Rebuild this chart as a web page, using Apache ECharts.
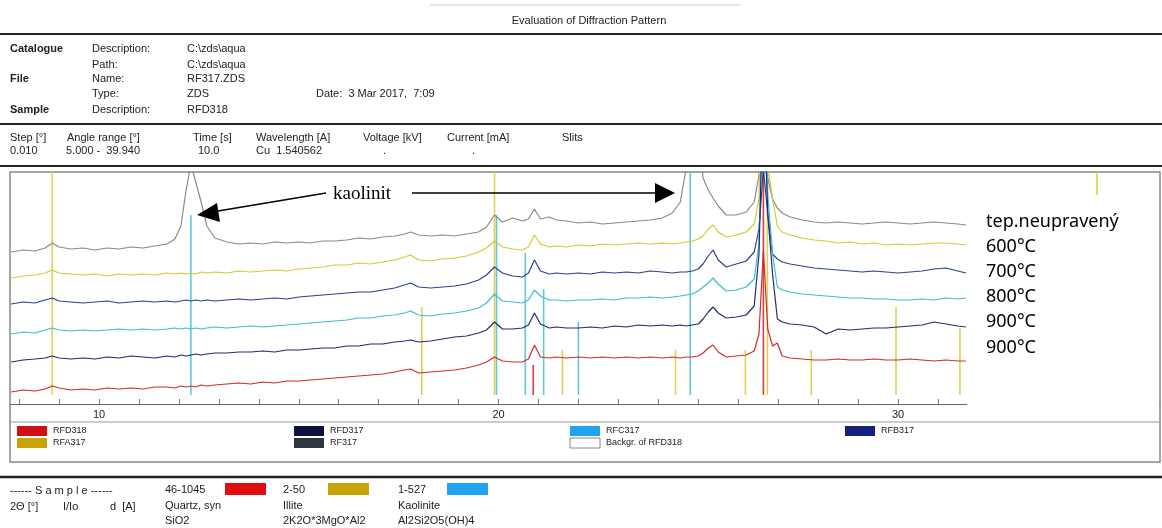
<!DOCTYPE html>
<html>
<head>
<meta charset="utf-8">
<title>Evaluation of Diffraction Pattern</title>
<script src="https://cdn.jsdelivr.net/npm/echarts@6/dist/echarts.min.js"></script>
<style>
  html, body { margin: 0; padding: 0; background: #fff; }
  #chart { width: 1162px; height: 528px; }
</style>
</head>
<body>
<div id="chart"></div>
<script>
// 2theta positions shared by all scans (deg)
var twoTheta = [7.8, 8.1, 8.4, 8.65, 8.83, 9.0, 9.3, 9.6, 9.9, 10.2,
  10.5, 10.8, 11.1, 11.4, 11.7, 11.9, 12.05, 12.18, 12.3, 12.42,
  12.55, 12.7, 12.9, 13.2, 13.5, 13.8, 14.1, 14.4, 14.7, 15.0,
  15.3, 15.6, 15.9, 16.2, 16.5, 16.8, 17.1, 17.4, 17.65, 17.8,
  18.0, 18.3, 18.6, 18.9, 19.2, 19.5, 19.7, 19.9, 20.1, 20.35,
  20.6, 20.75, 20.9, 21.05, 21.27, 21.45, 21.7, 22.0, 22.3, 22.6,
  22.9, 23.2, 23.5, 23.8, 24.1, 24.35, 24.55, 24.7, 24.85, 25.0,
  25.12, 25.25, 25.37, 25.5, 25.7, 25.95, 26.2, 26.4, 26.52, 26.63,
  26.74, 26.86, 26.98, 27.1, 27.3, 27.6, 27.9, 28.2, 28.5, 28.8,
  29.1, 29.4, 29.7, 30.0, 30.3, 30.6, 30.9, 31.2, 31.5, 31.7];

// stacked scans (offset intensity, top to bottom)
var scanRaw = [152, 154, 153, 156, 161, 157, 155, 156, 154, 156,
  155, 157, 156, 158, 160, 165, 178, 214, 240, 222,
  203, 178, 166, 162, 160, 161, 160, 162, 161, 162,
  161, 163, 163, 164, 166, 165, 167, 168, 170, 172,
  169, 168, 169, 168, 170, 172, 177, 189, 182, 186,
  183, 185, 195, 185, 187, 184, 183, 181, 182, 180,
  181, 182, 183, 184, 186, 191, 202, 236, 300, 270,
  226, 214, 206, 198, 189, 189, 192, 202, 229, 450,
  226, 205, 196, 191, 187, 184, 182, 181, 182, 181,
  180, 181, 182, 181, 180, 181, 182, 181, 180, 179];
var scan600 = [126, 128, 129, 131, 134, 131, 130, 129, 130, 128,
  130, 129, 130, 129, 131, 130, 131, 130, 131, 130,
  132, 131, 132, 131, 133, 132, 133, 134, 133, 135,
  136, 137, 139, 139, 141, 140, 142, 144, 147, 149,
  144, 143, 145, 146, 148, 152, 156, 163, 157, 155,
  154, 157, 169, 160, 157, 158, 157, 159, 158, 160,
  159, 160, 161, 160, 161, 160, 161, 162, 163, 165,
  168, 175, 179, 172, 167, 169, 172, 180, 205, 420,
  240, 205, 178, 172, 169, 166, 164, 163, 161, 162,
  160, 161, 159, 160, 159, 160, 161, 161, 160, 159];
var scan700 = [100, 102, 101, 104, 106, 103, 102, 101, 102, 103,
  101, 102, 103, 102, 103, 102, 103, 104, 103, 104,
  103, 104, 103, 104, 105, 104, 105, 106, 105, 107,
  108, 109, 110, 111, 112, 112, 114, 116, 119, 121,
  117, 116, 117, 118, 120, 124, 129, 137, 131, 128,
  127, 131, 144, 133, 130, 131, 130, 131, 130, 132,
  131, 132, 131, 133, 132, 131, 132, 132, 133, 135,
  140, 148, 154, 144, 137, 140, 143, 152, 175, 235,
  190, 150, 145, 142, 140, 138, 136, 135, 134, 133,
  132, 133, 132, 131, 132, 133, 135, 136, 133, 131];
var scan800 = [70, 72, 71, 74, 76, 74, 73, 74, 73, 74,
  75, 74, 75, 74, 75, 76, 75, 76, 75, 76,
  75, 76, 77, 76, 77, 78, 77, 78, 79, 80,
  81, 82, 83, 84, 86, 86, 88, 89, 91, 93,
  89, 88, 90, 91, 93, 96, 101, 110, 103, 102,
  101, 104, 114, 108, 104, 104, 103, 104, 104, 105,
  104, 106, 106, 107, 106, 107, 108, 109, 110, 113,
  117, 121, 126, 120, 113, 114, 117, 125, 160, 330,
  210, 150, 117, 114, 112, 110, 109, 108, 107, 106,
  106, 105, 105, 104, 104, 105, 104, 106, 105, 106];
var scan900a = [42, 44, 45, 46, 48, 46, 45, 46, 45, 47,
  46, 48, 47, 46, 48, 47, 49, 48, 49, 50,
  49, 50, 51, 51, 52, 52, 53, 52, 54, 54,
  55, 56, 56, 58, 58, 60, 60, 62, 63, 64,
  62, 63, 65, 67, 68, 71, 74, 82, 75, 75,
  76, 79, 91, 80, 76, 77, 76, 76, 77, 76,
  78, 77, 79, 78, 79, 78, 79, 78, 79, 80,
  85, 92, 97, 91, 86, 87, 89, 98, 150, 320,
  190, 130, 85, 82, 80, 79, 77, 70, 75, 74,
  75, 76, 76, 77, 78, 79, 82, 80, 78, 77];
var scan900b = [12, 14, 13, 15, 18, 16, 14, 15, 14, 16,
  15, 16, 15, 17, 17, 16, 18, 17, 18, 17,
  19, 18, 19, 20, 21, 20, 22, 21, 23, 23,
  24, 25, 26, 27, 28, 29, 30, 32, 34, 35,
  31, 32, 33, 34, 36, 39, 42, 47, 43, 42,
  42, 45, 59, 47, 46, 47, 46, 47, 46, 47,
  46, 47, 46, 47, 46, 47, 46, 47, 47, 48,
  51, 56, 59, 52, 47, 48, 49, 53, 70, 154,
  75, 58, 61, 48, 46, 45, 44, 44, 45, 44,
  44, 45, 44, 44, 45, 44, 43, 44, 43, 43];

// reference pattern sticks [2theta, top]
var quartzSticks = [[20.87, 39], [26.63, 240]];
var illiteSticks = [[8.83, 240], [18.08, 97], [19.9, 240], [21.6, 54], [24.43, 54], [26.18, 54],
  [26.73, 240], [27.83, 54], [29.95, 97], [31.55, 76], [34.98, 240]];
var kaoliniteSticks = [[12.3, 189], [19.95, 189], [20.67, 151], [21.13, 115], [22.0, 82], [24.8, 240]];

var tickValues = [8, 9, 10, 11, 12, 13, 14, 15, 16, 17, 18, 19, 20, 21, 22, 23, 24, 25, 26, 27, 28, 29, 30, 31, 32, 33, 34, 35, 36];
var labelValues = [10, 20, 30];
var tempLabels = ['tep.neupravený', '600°C', '700°C', '800°C', '900°C', '900°C'];

var yMax = 232;
var stickBase = 9;
var sans = 'Liberation Sans, Arial, sans-serif';

var chart = echarts.init(document.getElementById('chart'));

function pairs(vals) {
  return twoTheta.map(function (t, i) { return [t, vals[i]]; });
}

function scanSeries(name, vals, color) {
  return {
    name: name, type: 'line', data: pairs(vals), showSymbol: false,
    lineStyle: { color: color, width: 1.2 }, itemStyle: { color: color },
    z: 3, silent: true
  };
}

function stickSeries(name, sticks, color) {
  return {
    name: name, type: 'custom', data: sticks, z: 2, silent: true,
    itemStyle: { color: color },
    encode: { x: 0, y: 1 },
    renderItem: function (params, api) {
      var t = api.value(0);
      var p0 = api.coord([t, stickBase]);
      var p1 = api.coord([t, Math.min(api.value(1), yMax)]);
      return {
        type: 'line',
        shape: { x1: p0[0], y1: p0[1], x2: p1[0], y2: p1[1] },
        style: { stroke: color, lineWidth: 1.6 }
      };
    }
  };
}

function txt(x, y, s, o) {
  o = o || {};
  return {
    type: 'text', x: x, y: y, z: o.z || 10,
    style: {
      text: s, fill: o.color || '#222', fontSize: o.size || 11,
      fontFamily: o.font || sans, fontWeight: o.bold ? 'bold' : 'normal',
      textAlign: o.align || 'left', textVerticalAlign: 'middle'
    }
  };
}
function hline(x1, x2, y, w, c, z) {
  return { type: 'line', z: z || 10, shape: { x1: x1, y1: y, x2: x2, y2: y }, style: { stroke: c || '#222', lineWidth: w || 1 } };
}
function box(x, y, w, h, fill, stroke) {
  return { type: 'rect', z: 10, shape: { x: x, y: y, width: w, height: h }, style: { fill: fill, stroke: stroke || null, lineWidth: 1 } };
}

var g = [];
// header
g.push(hline(430, 740, 5, 1, '#ccc'));
g.push(txt(589, 21, 'Evaluation of Diffraction Pattern', { align: 'center' }));
g.push(hline(0, 1162, 34, 2, '#222'));
var rowY = [49, 65, 79, 94, 110];
g.push(txt(10, rowY[0], 'Catalogue', { bold: true }));
g.push(txt(10, rowY[2], 'File', { bold: true }));
g.push(txt(10, rowY[4], 'Sample', { bold: true }));
['Description:', 'Path:', 'Name:', 'Type:', 'Description:'].forEach(function (s, i) { g.push(txt(92, rowY[i], s)); });
['C:\\zds\\aqua', 'C:\\zds\\aqua', 'RF317.ZDS', 'ZDS', 'RFD318'].forEach(function (s, i) { g.push(txt(187, rowY[i], s)); });
g.push(txt(316, rowY[3], 'Date:  3 Mar 2017,  7:09'));
g.push(hline(0, 1162, 124, 2, '#222'));
[[10, 'Step [°]'], [67, 'Angle range [°]'], [193, 'Time [s]'], [256, 'Wavelength [A]'],
 [363, 'Voltage [kV]'], [447, 'Current [mA]'], [562, 'Slits']].forEach(function (p) { g.push(txt(p[0], 138, p[1])); });
[[10, '0.010'], [66, '5.000 -  39.940'], [198, '10.0'], [256, 'Cu  1.540562'],
 [383, '.'], [472, '.']].forEach(function (p) { g.push(txt(p[0], 151, p[1])); });
g.push(hline(0, 1162, 166, 2, '#222'));

// frame around plot and legend
g.push({ type: 'rect', z: 1, shape: { x: 10, y: 172, width: 1150, height: 290 }, style: { fill: null, stroke: '#888', lineWidth: 1.5 } });
g.push(hline(10, 1160, 422, 1, '#999', 1));

// cover for the right part + temperature labels
g.push({ type: 'rect', z: 50, shape: { x: 967, y: 195, width: 192, height: 226 }, style: { fill: '#fff' } });
tempLabels.forEach(function (s, i) {
  g.push(txt(986, [222, 247, 272, 297, 322, 348][i], s, { size: 18, color: '#000', font: 'Noto Sans, sans-serif', z: 60 }));
});

// kaolinit annotation
g.push(txt(333, 194, 'kaolinit', { size: 19, color: '#000', font: 'Liberation Serif, Times New Roman, serif', z: 60 }));
g.push({ type: 'line', z: 60, shape: { x1: 326, y1: 193, x2: 212, y2: 212 }, style: { stroke: '#000', lineWidth: 1.6 } });
g.push({ type: 'polygon', z: 60, shape: { points: [[197, 215], [217, 203], [220, 222]] }, style: { fill: '#000' } });
g.push({ type: 'line', z: 60, shape: { x1: 412, y1: 193, x2: 658, y2: 193 }, style: { stroke: '#000', lineWidth: 1.6 } });
g.push({ type: 'polygon', z: 60, shape: { points: [[675, 193], [655, 183], [655, 203]] }, style: { fill: '#000' } });

// legend of the scans
var legendItems = [
  [17, 431, '#d40f0f', 'RFD318'], [17, 443, '#c8a40a', 'RFA317'],
  [294, 431, '#0c1240', 'RFD317'], [294, 443, '#30363f', 'RF317'],
  [570, 431, '#21a3f0', 'RFC317'], [570, 443, '#ffffff', 'Backgr. of RFD318'],
  [845, 431, '#14207e', 'RFB317']
];
legendItems.forEach(function (l) {
  g.push(box(l[0], l[1] - 5, 30, 10, l[2], l[2] === '#ffffff' ? '#888' : null));
  g.push(txt(l[0] + 36, l[1], l[3], { size: 9 }));
});

// sample / phase section
g.push(hline(0, 1162, 477, 2.5, '#222'));
g.push(txt(10, 491, '------ S a m p l e ------', { size: 11 }));
g.push(txt(10, 507, '2Θ [°]'));
g.push(txt(63, 507, 'I/Io'));
g.push(txt(110, 507, 'd  [A]'));
var phases = [
  [165, 225, '#e00f0f', '46-1045', 'Quartz, syn', 'SiO2'],
  [283, 328, '#c8a40a', '2-50', 'Illite', '2K2O*3MgO*Al2'],
  [398, 447, '#21a3f0', '1-527', 'Kaolinite', 'Al2Si2O5(OH)4']
];
phases.forEach(function (p) {
  g.push(txt(p[0], 490, p[3]));
  g.push(box(p[1], 483, 41, 12, p[2]));
  g.push(txt(p[0], 506, p[4]));
  g.push(txt(p[0], 521, p[5]));
});

chart.setOption({
  animation: false,
  backgroundColor: '#fff',
  grid: { left: 10, right: 2, top: 172, bottom: 124, show: false },
  xAxis: {
    type: 'value', min: 7.772, max: 36.558,
    axisLine: { show: true, lineStyle: { color: '#666', width: 1 } },
    axisTick: { show: true, inside: true, length: 5, customValues: tickValues, lineStyle: { color: '#777' } },
    axisLabel: { customValues: labelValues, margin: 5, fontSize: 11, color: '#222', fontFamily: sans },
    splitLine: { show: false }
  },
  yAxis: { type: 'value', min: 0, max: yMax, show: false },
  graphic: g,
  series: [
    stickSeries('Quartz', quartzSticks, '#d84040'),
    stickSeries('Illite', illiteSticks, '#e4cf52'),
    stickSeries('Kaolinite', kaoliniteSticks, '#62c8de'),
    scanSeries(tempLabels[0], scanRaw, '#8a8a8a'),
    scanSeries(tempLabels[1], scan600, '#d6c92c'),
    scanSeries(tempLabels[2], scan700, '#2c3f98'),
    scanSeries(tempLabels[3], scan800, '#3ebbd2'),
    scanSeries(tempLabels[4], scan900a, '#1f2c74'),
    scanSeries(tempLabels[5], scan900b, '#d42a2a')
  ]
});
</script>
</body>
</html>
